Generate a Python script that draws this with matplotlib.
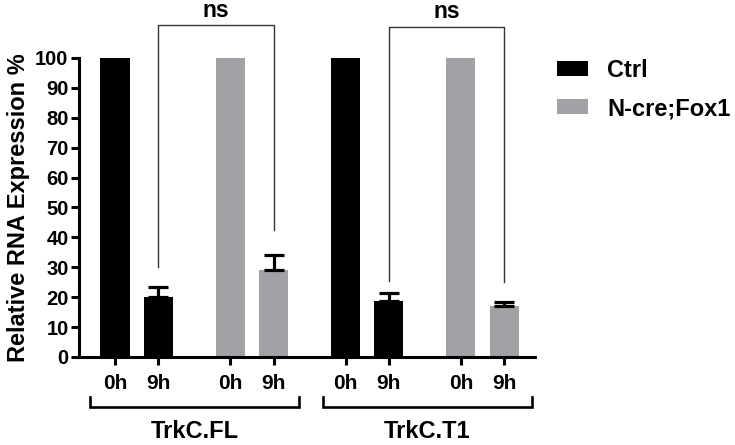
import matplotlib
matplotlib.use('Agg')
from matplotlib import pyplot as plt
from matplotlib.patches import Patch
import numpy as np

plt.rcParams['font.family'] = ['Liberation Sans', 'DejaVu Sans']
plt.rcParams['font.weight'] = 'bold'

# Data
groups = ['TrkC.FL', 'TrkC.T1']
series = ['Ctrl', 'N-cre;Fox1']
# bar order: FL Ctrl 0h, 9h, FL Fox1 0h, 9h, T1 Ctrl 0h, 9h, T1 Fox1 0h, 9h
values = [100, 20.2, 100, 29.1, 100, 18.6, 100, 17.2]
errors = [0, 3.3, 0, 4.9, 0, 2.7, 0, 1.2]
bar_series = [0, 0, 1, 1, 0, 0, 1, 1]
tick_labels = ['0h', '9h'] * 4
colors = ['#000000', '#a2a2a6']

# Positions: pairs of bars, pair starts 2.66 apart
pair_step = 2.66
x = np.array([p * pair_step + k for p in range(4) for k in range(2)])
width = 0.67

fig = plt.figure(figsize=(7.35, 4.45), dpi=100)
ax = fig.add_axes([0.1075, 0.1978, 0.6204, 0.6719])

bar_colors = [colors[s] for s in bar_series]
ax.bar(x, values, width=width, color=bar_colors, zorder=2, clip_on=False)

# upper error bars only where there is an error
err = np.array(errors)
has_err = err > 0
ax.errorbar(x[has_err], np.array(values)[has_err],
            yerr=[np.zeros(has_err.sum()), err[has_err]], fmt='none',
            ecolor='black', elinewidth=2.3, capsize=7.5, capthick=2.3, zorder=3,
            clip_on=False)

ax.set_xlim(-0.83, x[-1] + 0.71)
ax.set_ylim(0, 100)
ax.set_yticks(np.arange(0, 101, 10))
ax.set_xticks(x)
ax.set_xticklabels(tick_labels)

for side in ['top', 'right']:
    ax.spines[side].set_visible(False)
for side in ['left', 'bottom']:
    ax.spines[side].set_linewidth(2.2)
ax.tick_params(axis='both', width=2.2, length=6, labelsize=14.5)
ax.tick_params(axis='y', pad=1.5)
ax.tick_params(axis='x', pad=6, labelsize=15)

ax.set_ylabel('Relative RNA Expression %', fontsize=17, fontweight='bold', labelpad=4)

# Group brackets under axis
trans = ax.get_xaxis_transform()
group_spans = [(-0.58, 4.25), (4.80, 9.62)]
for name, (x0, x1) in zip(groups, group_spans):
    ax.plot([x0, x0, x1, x1], [-0.134, -0.167, -0.167, -0.134], color='black',
            lw=1.9, transform=trans, clip_on=False, solid_joinstyle='miter')
    ax.text((x0 + x1) / 2, -0.25, name, transform=trans, ha='center', va='center',
            fontsize=17, fontweight='bold')

# Significance brackets
sig_pairs = [(1, 3), (5, 7)]
sig_tops = [111, 110.5]
sig_legs = [(30, 42.5), (25.4, 25.2)]
for (i, j), top, (l0, l1) in zip(sig_pairs, sig_tops, sig_legs):
    ax.plot([x[i], x[i], x[j], x[j]], [l0, top, top, l1], color='#333333',
            lw=1.0, clip_on=False)
    ax.text((x[i] + x[j]) / 2, top + 2.8, 'ns', ha='center', va='baseline',
            fontsize=16.5, fontweight='bold')

handles = [Patch(facecolor=c, edgecolor='none') for c in colors]
fig.legend(handles, series, loc='upper left', bbox_to_anchor=(0.758, 0.868),
           frameon=False, fontsize=17, handlelength=1.31, handleheight=0.6,
           handletextpad=0.82, labelspacing=0.65, borderpad=0, borderaxespad=0)

fig.savefig('out.png', dpi=100)
